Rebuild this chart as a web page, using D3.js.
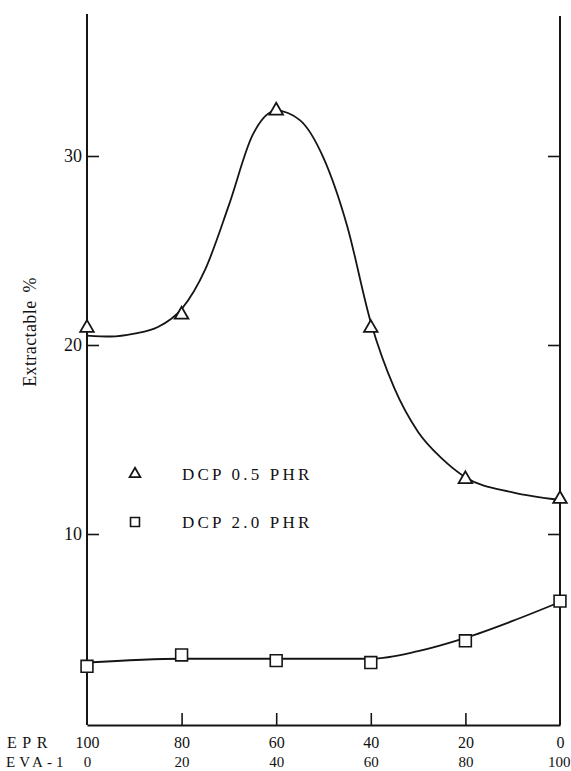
<!DOCTYPE html>
<html>
<head>
<meta charset="utf-8">
<script src="https://cdn.jsdelivr.net/npm/d3@7"></script>
<style>
  html, body { margin: 0; padding: 0; background: #fff; }
  svg { display: block; }
  text { font-family: "Liberation Serif", "Times New Roman", serif; fill: #111; }
</style>
</head>
<body>
<svg id="chart" width="571" height="771"></svg>
<script>
// ---- data ----
const eprTicks = [100, 80, 60, 40, 20, 0];
const yTicks = [10, 20, 30];
// measured points
const epr = [100, 80, 60, 40, 20, 0];
const dcp05 = [20.9, 21.6, 32.4, 20.9, 12.9, 11.85];
const dcp20 = [3.0, 3.6, 3.3, 3.2, 4.35, 6.45];
// hand-drawn smooth curves
const curve05Epr = [100, 95, 90, 85, 80, 75, 70, 65, 60, 55, 50, 45, 40, 35, 30, 25, 20, 10, 0];
const curve05Val = [20.5, 20.45, 20.6, 20.95, 21.9, 24.0, 27.4, 31.1, 32.4, 31.9, 29.9, 26.3, 21.2, 17.7, 15.4, 14.0, 13.0, 12.2, 11.8];
const curve20Epr = [100, 80, 60, 40, 30, 20, 10, 0];
const curve20Val = [3.2, 3.4, 3.4, 3.4, 3.8, 4.5, 5.4, 6.4];
const legendLabels = ["DCP 0.5 PHR", "DCP 2.0 PHR"];
const yTitle = "Extractable %";

// ---- layout ----
const svg = d3.select("#chart");
const x = d3.scaleLinear().domain([100, 0]).range([87, 560]);
const xEva = d3.scaleLinear().domain([0, 100]).range([87, 560]);
const y = d3.scaleLinear().domain([0, 30]).range([723, 156]);
const axisY = 725;
const ink = "#151515";

// frame verticals
svg.append("line").attr("x1", x(100)).attr("x2", x(100)).attr("y1", 14).attr("y2", axisY)
  .attr("stroke", ink).attr("stroke-width", 2);
svg.append("line").attr("x1", x(0)).attr("x2", x(0)).attr("y1", 16).attr("y2", axisY)
  .attr("stroke", ink).attr("stroke-width", 2);

// left axis (ticks inward, labels outside)
const gl = svg.append("g").attr("transform", `translate(${x(100)},0)`)
  .call(d3.axisLeft(y).tickValues(yTicks).tickSizeInner(-12).tickSizeOuter(0).tickPadding(5));
gl.select(".domain").remove();
gl.selectAll("line").attr("stroke", ink).attr("stroke-width", 1.6);
gl.selectAll("text").attr("font-size", 18).attr("font-family", "Liberation Serif").attr("fill", "#111");

// right axis (ticks inward, no labels)
const gr = svg.append("g").attr("transform", `translate(${x(0)},0)`)
  .call(d3.axisRight(y).tickValues(yTicks).tickSizeInner(-12).tickSizeOuter(0).tickFormat(""));
gr.select(".domain").remove();
gr.selectAll("line").attr("stroke", ink).attr("stroke-width", 1.6);

// bottom axis: EPR row
const gb = svg.append("g").attr("transform", `translate(0,${axisY})`)
  .call(d3.axisBottom(x).tickValues(eprTicks).tickSizeInner(-12).tickSizeOuter(0).tickPadding(11.5));
gb.select(".domain").attr("stroke", ink).attr("stroke-width", 2);
gb.selectAll(".tick line").attr("stroke", ink).attr("stroke-width", 1.6)
  .filter(d => d === 100 || d === 0).remove();
gb.selectAll("text").attr("font-size", 16).attr("font-family", "Liberation Serif").attr("fill", "#111");

// bottom axis: EVA-1 row
const gb2 = svg.append("g").attr("transform", `translate(0,${axisY})`)
  .call(d3.axisBottom(xEva).tickValues(eprTicks.map(d => 100 - d)).tickSize(0).tickPadding(31.5));
gb2.select(".domain").remove();
gb2.selectAll("text").attr("font-size", 15).attr("font-family", "Liberation Serif").attr("fill", "#111");
gb2.selectAll(".tick").filter(d => d === 100).select("text")
  .attr("text-anchor", "end").attr("dx", 10);

// row titles
svg.append("text").attr("x", 7).attr("y", 748).attr("font-size", 16).attr("letter-spacing", 5.5).text("EPR");
svg.append("text").attr("x", 6).attr("y", 767).attr("font-size", 15).attr("letter-spacing", 4).text("EVA-1");

// y title
svg.append("text")
  .attr("transform", `translate(36,332) rotate(-90)`)
  .attr("text-anchor", "middle")
  .attr("font-size", 18)
  .attr("letter-spacing", 0.4)
  .attr("word-spacing", 3)
  .text(yTitle);

// curves
const line = d3.line().x(d => x(d[0])).y(d => y(d[1])).curve(d3.curveMonotoneX);
svg.append("path").datum(d3.zip(curve05Epr, curve05Val)).attr("d", line)
  .attr("fill", "none").attr("stroke", ink).attr("stroke-width", 1.8);
svg.append("path").datum(d3.zip(curve20Epr, curve20Val)).attr("d", line)
  .attr("fill", "none").attr("stroke", ink).attr("stroke-width", 1.8);

// markers
const tri = d3.symbol().type(d3.symbolTriangle).size(80);
const sq = d3.symbol().type(d3.symbolSquare).size(140);
svg.append("g").selectAll("path").data(d3.zip(epr, dcp05)).join("path")
  .attr("d", tri).attr("transform", d => `translate(${x(d[0])},${y(d[1])})`)
  .attr("fill", "#fff").attr("stroke", ink).attr("stroke-width", 1.8);
svg.append("g").selectAll("path").data(d3.zip(epr, dcp20)).join("path")
  .attr("d", sq).attr("transform", d => `translate(${x(d[0])},${y(d[1])})`)
  .attr("fill", "#fff").attr("stroke", ink).attr("stroke-width", 1.6);

// legend
const lg = svg.append("g");
lg.append("path").attr("d", d3.symbol().type(d3.symbolTriangle).size(50)())
  .attr("transform", "translate(135,474)").attr("fill", "#fff").attr("stroke", ink).attr("stroke-width", 1.8);
lg.append("path").attr("d", d3.symbol().type(d3.symbolSquare).size(80)())
  .attr("transform", "translate(135,522)").attr("fill", "#fff").attr("stroke", ink).attr("stroke-width", 1.6);
lg.append("text").attr("x", 182).attr("y", 480).attr("font-size", 17).attr("letter-spacing", 3.2).text(legendLabels[0]);
lg.append("text").attr("x", 182).attr("y", 528).attr("font-size", 17).attr("letter-spacing", 3.2).text(legendLabels[1]);
</script>
</body>
</html>
